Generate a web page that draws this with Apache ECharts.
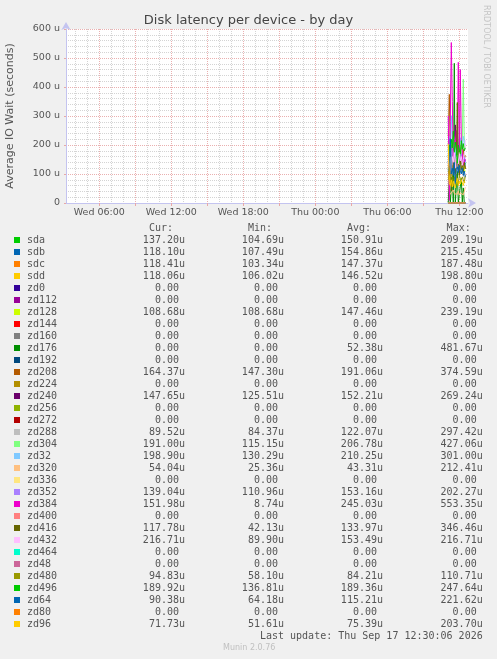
<!DOCTYPE html>
<html><head><meta charset="utf-8">
<script src="https://cdn.jsdelivr.net/npm/echarts@6/dist/echarts.min.js"></script>
<style>html,body{margin:0;padding:0;background:#f0f0f0;}#c{width:497px;height:659px;}</style>
</head><body><div id="c"></div>
<script>
// ---- data ----
const deviceNames = ['sda','sdb','sdc','sdd','zd0','zd112','zd128','zd144','zd160','zd176','zd192','zd208','zd224','zd240','zd256','zd272','zd288','zd304','zd32','zd320','zd336','zd352','zd384','zd400','zd416','zd432','zd464','zd48','zd480','zd496','zd64','zd80','zd96'];
const deviceColors = ['#00CC00','#0066B3','#FF8000','#FFCC00','#330099','#990099','#CCFF00','#FF0000','#808080','#008F00','#00487D','#B35A00','#B38F00','#6B006B','#8FB300','#B30000','#BEBEBE','#80FF80','#80C9FF','#FFC080','#FFE680','#AA80FF','#EE00CC','#FF8080','#666600','#FFBFFF','#00FFCC','#CC6699','#999900','#00CC00','#0066B3','#FF8000','#FFCC00'];
const curVals = [137.20,118.10,118.41,118.06,0,0,108.68,0,0,0,0,164.37,0,147.65,0,0,89.52,191.00,198.90,54.04,0,139.04,151.98,0,117.78,216.71,0,0,94.83,189.92,90.38,0,71.73];
const minVals = [104.69,107.49,103.34,106.02,0,0,108.68,0,0,0,0,147.30,0,125.51,0,0,84.37,115.15,130.29,25.36,0,110.96,8.74,0,42.13,89.90,0,0,58.10,136.81,64.18,0,51.61];
const avgVals = [150.91,154.86,147.37,146.52,0,0,147.46,0,0,52.38,0,191.06,0,152.21,0,0,122.07,206.78,210.25,43.31,0,153.16,245.03,0,133.97,153.49,0,0,84.21,189.36,115.21,0,75.39];
const maxVals = [209.19,215.45,187.48,198.80,0,0,239.19,0,0,481.67,0,374.59,0,269.24,0,0,297.42,427.06,301.00,212.41,0,202.27,553.35,0,346.46,216.71,0,0,110.71,247.64,221.62,0,203.70];

const times = ['Thu 11:05','Thu 11:10','Thu 11:15','Thu 11:20','Thu 11:25','Thu 11:30','Thu 11:35','Thu 11:40','Thu 11:45','Thu 11:50','Thu 11:55','Thu 12:00','Thu 12:05','Thu 12:10','Thu 12:15','Thu 12:20','Thu 12:25','Thu 12:30'];

const Z = [0,0,0,0,0,0,0,0,0,0,0,0,0,0,0,0,0,0];
const sda   = [160,209.19,145,130,175,150,104.69,140,185,160,120,155,170,135,165,148,130,137.20];
const sdb   = [140,180,215.45,150,125,170,160,107.49,145,190,155,165,140,175,150,130,160,118.10];
const sdc   = [130,155,170,103.34,140,187.48,150,135,160,145,125,170,155,140,165,150,135,118.41];
const sdd   = [125,160,140,198.80,150,130,106.02,165,145,155,170,135,150,140,160,145,130,118.06];
const zd128 = [150,130,239.19,160,140,125,155,145,170,135,150,120,140,160,130,145,115,108.68];
const zd176 = [0,120,0,0,95,0,481.67,0,0,110,0,0,0,85,0,52,0,0];
const zd208 = [230,374.59,180,160,200,147.30,175,190,165,210,155,180,170,195,160,185,150,164.37];
const zd240 = [140,160,135,180,150,125.51,145,269.24,140,155,130,150,145,160,135,150,140,147.65];
const zd288 = [297.42,130,110,95,120,105,140,115,100,125,110,95,130,105,115,100,84.37,89.52];
const zd304 = [180,200,220,115.15,190,240,210,170,200,230,185,210,195,160,220,427.06,200,191.00];
const zd32  = [200,230,180,301.00,210,190,220,130.29,215,240,200,185,225,205,195,230,210,198.90];
const zd320 = [212.41,40,30,35,28,45,32,25.36,38,30,42,27,35,30,40,28,33,54.04];
const zd352 = [150,170,140,160,202.27,145,155,130,165,150,110.96,160,145,170,155,140,160,139.04];
const zd384 = [300,8.74,280,553.35,350,150,220,200,250,150,485,180,460,220,220,130,130,151.98];
const zd416 = [120,90,150,42.13,130,110,160,100,140,346.46,125,95,150,115,135,105,140,117.78];
const zd432 = [150,130,170,89.90,160,140,180,120,155,165,135,175,145,160,130,150,170,216.71];
const zd480 = [80,95,70,110.71,85,58.10,90,75,100,80,65,95,85,75,90,80,70,94.83];
const zd496 = [180,200,160,220,190,247.64,175,210,185,136.81,200,195,170,215,185,205,180,189.92];
const zd64  = [110,130,221.62,100,120,95,140,64.18,115,125,105,130,110,100,120,95,110,90.38];
const zd96  = [203.70,70,60,80,55,75,65,51.61,70,85,60,75,65,80,70,60,75,71.73];

const seriesValues = [sda,sdb,sdc,sdd,Z,Z,zd128,Z,Z,zd176,Z,zd208,Z,zd240,Z,Z,zd288,zd304,zd32,zd320,Z,zd352,zd384,Z,zd416,zd432,Z,Z,zd480,zd496,zd64,Z,zd96];

// axis ticks (hours since Wed 00:00)
const xMinorTicks = [4,5,6,7,8,9,10,11,12,13,14,15,16,17,18,19,20,21,22,23,24,25,26,27,28,29,30,31,32,33,34,35,36];
const xMajorTicks = [6,9,12,15,18,21,24,27,30,33,36];
const xLabelTicks = [6,12,18,24,30,36];
const xTickLabels = ['Wed 06:00','Wed 12:00','Wed 18:00','Thu 00:00','Thu 06:00','Thu 12:00'];
const xStart = 3.225, xEnd = 36.725;

// ---- helpers ----
function toHours(s){
  const [d, hm] = s.split(' ');
  const [h, m] = hm.split(':').map(Number);
  return (d === 'Thu' ? 24 : 0) + h + m/60;
}
function fmt(v){ return v === 0 ? '0.00 ' : v.toFixed(2) + 'u'; }

const tx = times.map(toHours);
const series = deviceNames.map((n, i) => ({
  name: n, type: 'line', xAxisIndex: 0, yAxisIndex: 0,
  showSymbol: false, symbol: 'none',
  lineStyle: {width: 1, color: deviceColors[i]},
  itemStyle: {color: deviceColors[i]},
  data: seriesValues[i].map((v, k) => [tx[k], v]),
  animation: false, z: 5
}));

const MONO = '10px "DejaVu Sans Mono", monospace';
const TXT = '#555555';
const graphics = [];
const colRight = [185, 284, 383, 482.7];
const headers = ['Cur:', 'Min:', 'Avg:', 'Max:'];
headers.forEach((h, j) => graphics.push({type:'text', style:{text:h, x: colRight[j]-12, y:228, fill:TXT, font:MONO, align:'right', textAlign:'right', verticalAlign:'middle', textVerticalAlign:'middle'}}));
const cols = [curVals, minVals, avgVals, maxVals];
deviceNames.forEach((n, i) => {
  const y = 240 + 12*i;
  graphics.push({type:'rect', shape:{x:14, y:y-3, width:6, height:6}, style:{fill:deviceColors[i]}});
  graphics.push({type:'text', style:{text:n, x:27, y:y, fill:TXT, font:MONO, align:'left', textAlign:'left', verticalAlign:'middle', textVerticalAlign:'middle'}});
  cols.forEach((c, j) => graphics.push({type:'text', style:{text:fmt(c[i]), x:colRight[j], y:y, fill:TXT, font:MONO, align:'right', textAlign:'right', verticalAlign:'middle', textVerticalAlign:'middle'}}));
});
graphics.push({type:'text', style:{text:'Last update: Thu Sep 17 12:30:06 2026', x:482.7, y:636, fill:TXT, font:MONO, align:'right', textAlign:'right', verticalAlign:'middle', textVerticalAlign:'middle'}});
graphics.push({type:'text', style:{text:'Munin 2.0.76', x:223, y:648, fill:'#c0c0c0', font:'8px "DejaVu Sans", sans-serif', align:'left', textAlign:'left', verticalAlign:'middle', textVerticalAlign:'middle'}});
graphics.push({type:'text', rotation:-Math.PI/2, x:486, y:5, style:{text:'RRDTOOL / TOBI OETIKER', x:0, y:0, fill:'#c4c4c4', font:'8px "DejaVu Sans", sans-serif', align:'left', textAlign:'left', verticalAlign:'middle', textVerticalAlign:'middle'}});

const AXC = '#c4c4f0';
const option = {
  backgroundColor: '#f0f0f0',
  animation: false,
  title: {text:'Disk latency per device - by day', left:'center', top:9, textStyle:{fontSize:13, fontWeight:'normal', color:'#444', fontFamily:'DejaVu Sans'}},
  grid: {left:66, right:29, top:29, bottom:456, show:true, backgroundColor:'#ffffff', borderWidth:0, containLabel:false, outerBoundsMode:'none'},
  xAxis: [
    {type:'value', min:xStart, max:xEnd, position:'bottom',
     axisLine:{show:false}, axisLabel:{show:false},
     axisTick:{show:false, customValues:xMinorTicks},
     splitLine:{show:true, lineStyle:{color:'#d4d4d4', width:1, type:[1,1]}}},
    {type:'value', min:xStart, max:xEnd, position:'bottom',
     axisLine:{show:false}, axisLabel:{show:false},
     axisTick:{show:true, inside:false, length:3, customValues:xMajorTicks, lineStyle:{color:'#e8a8a8'}},
     splitLine:{show:true, lineStyle:{color:'#eab0b0', width:1, type:[1,1]}}},
    {type:'value', min:xStart, max:xEnd, position:'bottom',
     axisLine:{show:true, lineStyle:{color:AXC, width:1}, symbol:['none','arrow'], symbolSize:[7,8], symbolOffset:[0,8]},
     axisTick:{show:false, customValues:xLabelTicks},
     axisLabel:{show:true, customValues:xLabelTicks, margin:5, color:TXT, fontSize:9.5, fontFamily:'DejaVu Sans',
       formatter:(v)=>{ const k = xLabelTicks.indexOf(Math.round(v)); return k>=0 ? xTickLabels[k] : ''; }},
     splitLine:{show:false}}
  ],
  yAxis: [
    {type:'value', min:0, max:600, interval:20, position:'left',
     axisLine:{show:false}, axisTick:{show:false}, axisLabel:{show:false},
     splitLine:{show:true, lineStyle:{color:'#d4d4d4', width:1, type:[1,1]}}},
    {type:'value', min:0, max:600, interval:100, position:'left', offset:0,
     name:'Average IO Wait (seconds)', nameLocation:'middle', nameGap:50,
     nameTextStyle:{color:TXT, fontSize:11, fontFamily:'DejaVu Sans'},
     axisLine:{show:true, lineStyle:{color:AXC, width:1}, symbol:['none','arrow'], symbolSize:[7,8], symbolOffset:[0,7]},
     axisTick:{show:true, length:2, lineStyle:{color:'#e8a8a8'}},
     axisLabel:{show:true, margin:6, color:TXT, fontSize:9.5, fontFamily:'DejaVu Sans', formatter:(v)=> v===0 ? '0' : v + ' u'},
     splitLine:{show:true, lineStyle:{color:'#eab0b0', width:1, type:[1,1]}}}
  ],
  series: series,
  graphic: graphics
};
const chart = echarts.init(document.getElementById('c'), null, {renderer:'canvas'});
chart.setOption(option);
</script>
</body></html>
